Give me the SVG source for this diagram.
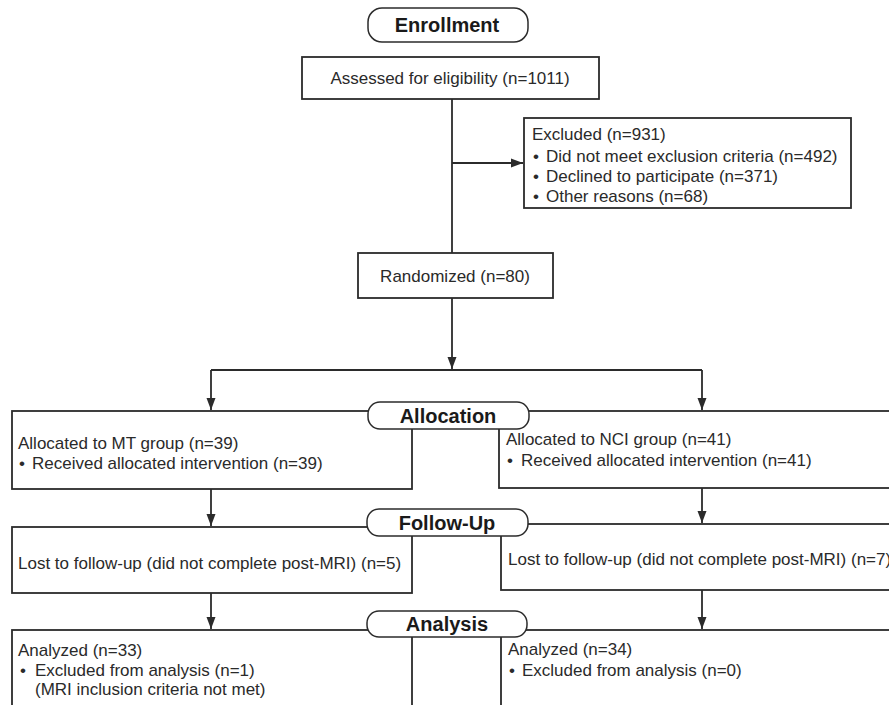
<svg xmlns="http://www.w3.org/2000/svg" width="889" height="705" viewBox="0 0 889 705">
<defs>
<style>
.box{fill:#fff;stroke:#2b2b2b;stroke-width:1.8}
.pill{fill:#fff;stroke:#2b2b2b;stroke-width:1.5}
.t{font-family:"Liberation Sans",Arial,sans-serif;font-size:17px;fill:#2a2a2a}
.h{font-family:"Liberation Sans",Arial,sans-serif;font-size:20px;font-weight:bold;fill:#1a1a1a}
.ln{fill:none;stroke:#2b2b2b;stroke-width:1.8}
</style>
<marker id="ah" viewBox="0 0 10 10" refX="10" refY="5" markerWidth="6" markerHeight="6" markerUnits="userSpaceOnUse" orient="auto">
<path d="M0,0 L10,5 L0,10 z" fill="#2b2b2b"/>
</marker>
<marker id="a" viewBox="0 0 12 10" refX="12" refY="5" markerWidth="12" markerHeight="10" markerUnits="userSpaceOnUse" orient="auto">
<path d="M0,0.5 L12,5 L0,9.5 z" fill="#2b2b2b"/>
</marker>
</defs>

<g id="connectors">
<line class="ln" x1="452" y1="99" x2="452" y2="253"/>
<line class="ln" x1="452" y1="163" x2="523" y2="163" marker-end="url(#a)"/>
<line class="ln" x1="452" y1="298" x2="452" y2="369" marker-end="url(#a)"/>
<polyline class="ln" points="211,370 702,370"/>
<line class="ln" x1="211" y1="370" x2="211" y2="410" marker-end="url(#a)"/>
<line class="ln" x1="702" y1="370" x2="702" y2="410" marker-end="url(#a)"/>
<line class="ln" x1="211" y1="489" x2="211" y2="526" marker-end="url(#a)"/>
<line class="ln" x1="702" y1="488" x2="702" y2="523" marker-end="url(#a)"/>
<line class="ln" x1="211" y1="593" x2="211" y2="629" marker-end="url(#a)"/>
<line class="ln" x1="702" y1="590" x2="702" y2="629" marker-end="url(#a)"/>
</g>

<g id="assessed">
<rect class="box" x="302" y="57" width="297" height="42"/>
<text class="t" x="450" y="84" text-anchor="middle">Assessed for eligibility (n=1011)</text>
</g>

<g id="excluded">
<rect class="box" x="524" y="118" width="327" height="90"/>
<text class="t" x="532" y="140">Excluded (n=931)</text>
<text class="t" y="162"><tspan x="533">•</tspan><tspan x="546">Did not meet exclusion criteria (n=492)</tspan></text>
<text class="t" y="182"><tspan x="533">•</tspan><tspan x="546">Declined to participate (n=371)</tspan></text>
<text class="t" y="202"><tspan x="533">•</tspan><tspan x="546">Other reasons (n=68)</tspan></text>
</g>

<g id="randomized">
<rect class="box" x="358" y="253" width="195" height="45"/>
<text class="t" x="455" y="282" text-anchor="middle">Randomized (n=80)</text>
</g>

<g id="alloc-mt">
<rect class="box" x="12" y="411" width="400" height="78"/>
<text class="t" x="18" y="449">Allocated to MT group (n=39)</text>
<text class="t" y="469"><tspan x="19">•</tspan><tspan x="32">Received allocated intervention (n=39)</tspan></text>
</g>

<g id="alloc-nci">
<rect class="box" x="499" y="411" width="410" height="77"/>
<text class="t" x="506" y="445">Allocated to NCI group (n=41)</text>
<text class="t" y="466"><tspan x="507">•</tspan><tspan x="521">Received allocated intervention (n=41)</tspan></text>
</g>

<g id="follow-mt">
<rect class="box" x="12" y="527" width="400" height="66"/>
<text class="t" x="18" y="569">Lost to follow-up (did not complete post-MRI) (n=5)</text>
</g>

<g id="follow-nci">
<rect class="box" x="501" y="524" width="410" height="66"/>
<text class="t" x="508" y="565">Lost to follow-up (did not complete post-MRI) (n=7)</text>
</g>

<g id="analysis-mt">
<rect class="box" x="12" y="630" width="400" height="90"/>
<text class="t" x="18" y="656">Analyzed (n=33)</text>
<text class="t" y="676"><tspan x="20">•</tspan><tspan x="35">Excluded from analysis (n=1)</tspan></text>
<text class="t" x="35" y="695">(MRI inclusion criteria not met)</text>
</g>

<g id="analysis-nci">
<rect class="box" x="501" y="630" width="410" height="90"/>
<text class="t" x="508" y="655">Analyzed (n=34)</text>
<text class="t" y="676"><tspan x="509">•</tspan><tspan x="522">Excluded from analysis (n=0)</tspan></text>
</g>

<g id="enrollment">
<rect class="pill" x="368" y="8" width="160" height="34" rx="14"/>
<text class="h" x="447" y="32" text-anchor="middle">Enrollment</text>
</g>

<g id="allocation">
<rect class="pill" x="368" y="402" width="161" height="27" rx="12"/>
<text class="h" x="448" y="423" text-anchor="middle">Allocation</text>
</g>

<g id="followup">
<rect class="pill" x="367" y="509" width="161" height="27" rx="12"/>
<text class="h" x="447" y="530" text-anchor="middle">Follow-Up</text>
</g>

<g id="analysis">
<rect class="pill" x="367" y="611" width="160" height="26" rx="12"/>
<text class="h" x="447" y="631" text-anchor="middle">Analysis</text>
</g>
</svg>
